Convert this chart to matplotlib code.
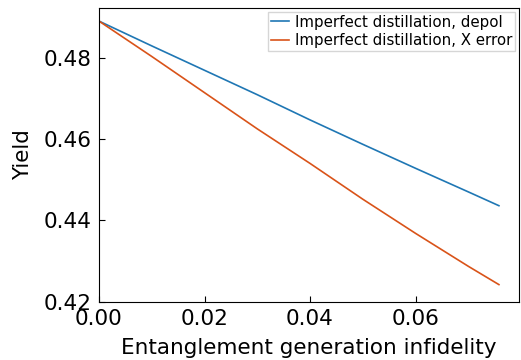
import matplotlib
matplotlib.use('Agg')
import matplotlib.pyplot as plt

# entanglement generation infidelity
infidelity = [0.0, 0.01, 0.02, 0.03, 0.04, 0.05, 0.06, 0.07, 0.0758]
yield_depol = [0.4890, 0.4829, 0.4769, 0.4709, 0.4647, 0.4587, 0.4528, 0.4470, 0.4436]
yield_xerr = [0.4890, 0.4803, 0.4714, 0.4625, 0.4540, 0.4452, 0.4368, 0.4287, 0.4242]

label_depol = 'Imperfect distillation, depol'
label_xerr = 'Imperfect distillation, X error'

fig = plt.figure(figsize=(5.21, 3.6), dpi=100)
ax = fig.add_axes([0.19, 0.162, 0.806, 0.816])
ax.plot(infidelity, yield_depol, color='#1f77b4', lw=1.2, label=label_depol)
ax.plot(infidelity, yield_xerr, color='#d95319', lw=1.2, label=label_xerr)

ax.set_xlim(left=0)
ax.set_ylim(bottom=0.42)
ax.set_xticks([0.0, 0.02, 0.04, 0.06])
ax.set_yticks([0.42, 0.44, 0.46, 0.48])
ax.tick_params(direction='in', labelsize=15.5, length=4, pad=5)
ax.set_xlabel('Entanglement generation infidelity', fontsize=15.5, labelpad=7)
ax.set_ylabel('Yield', fontsize=15.5, labelpad=8)
ax.legend(loc='upper right', fontsize=10.8, borderpad=0.2, handlelength=1.2,
          handletextpad=0.4, borderaxespad=0.25, labelspacing=0.25, fancybox=False)

fig.savefig('out.png', dpi=100)
